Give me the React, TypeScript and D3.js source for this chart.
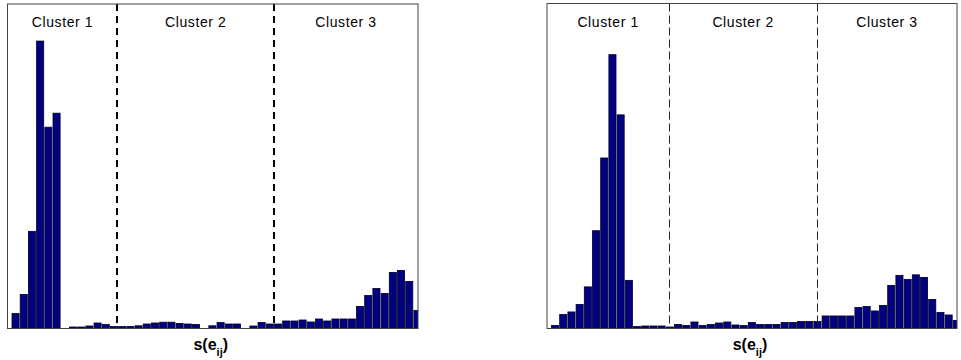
import React from "react";
import * as d3 from "d3";

// Histogram bin counts of s(e_ij) for the two runs
const binsLeft: number[] = [
  15, 34, 97, 287, 201, 215, 0, 1.5, 1.5, 2.5,
  5.5, 4, 2, 2, 2, 2.7, 4.5, 5.5, 6.3, 6.3,
  5, 4.5, 4, 0, 2.7, 6, 4.5, 4.5, 0, 2.5,
  6, 4.5, 4.5, 7.5, 7.5, 8.5, 6.5, 9.5, 7.5, 9.5,
  9.5, 9.5, 22, 33, 40, 35, 56, 58, 47, 18,
];
const binsRight: number[] = [
  3, 14, 16.5, 24, 41.5, 97.5, 170, 273, 213, 48,
  2, 2.5, 2.5, 2.5, 1.5, 4, 3, 6.5, 3, 4,
  5.5, 6.5, 3.5, 3, 6, 4, 4, 4, 6, 6,
  7, 7, 7, 12.5, 12.5, 12.5, 12.5, 21, 22, 17.5,
  23, 43, 53, 49, 53.5, 51, 29, 16, 13.5, 8,
];
// Cluster boundaries, in bin units
const splitsLeft: number[] = [12.4, 31.5];
const splitsRight: number[] = [13.9, 31.93];
// Visible bin range of each panel
const domainLeft: [number, number] = [-1, 49.05];
const domainRight: [number, number] = [-1, 49.0];
const clusterNames: string[] = ["Cluster 1", "Cluster 2", "Cluster 3"];
const yMax = 324;

type PanelProps = {
  id: string;
  bins: number[];
  splits: number[];
  domain: [number, number];
  left: number;
  right: number;
  top: number;
  bottom: number;
  heavyDash: boolean;
};

function Panel({ id, bins, splits, domain, left, right, top, bottom, heavyDash }: PanelProps) {
  const x = d3.scaleLinear().domain(domain).range([left, right]);
  const y = d3.scaleLinear().domain([0, yMax]).range([bottom, top]);
  const step = x(1) - x(0);
  const edges = [domain[0], ...splits, domain[1]];
  const clipId = `clip-${id}`;
  // snap thin rules to the pixel grid so they stay crisp
  const crisp = (v: number) => (heavyDash ? Math.round(v) : Math.floor(v) + 0.5);
  return (
    <g>
      <defs>
        <clipPath id={clipId}>
          <rect x={left} y={top} width={right - left} height={bottom - top} />
        </clipPath>
      </defs>
      <rect x={left} y={top} width={right - left} height={bottom - top} fill="#fff" />
      <g clipPath={`url(#${clipId})`}>
        {bins.map((v, i) =>
          v > 0 ? (
            <rect
              key={i}
              x={x(i - 0.5) + 0.4}
              y={y(v)}
              width={step - 1.1}
              height={bottom - y(v)}
              fill="#000080"
              stroke="#00002a"
              strokeWidth={0.8}
            />
          ) : null
        )}
      </g>
      {splits.map((s, i) => (
        <line
          key={i}
          x1={crisp(x(s))}
          x2={crisp(x(s))}
          y1={top}
          y2={bottom}
          stroke={heavyDash ? "#000" : "#222"}
          strokeWidth={heavyDash ? 2 : 1}
          strokeDasharray={heavyDash ? "7,5" : "8,4"}
        />
      ))}
      {clusterNames.map((name, i) => (
        <text
          key={name}
          x={(x(edges[i]) + x(edges[i + 1])) / 2}
          y={top + 23}
          textAnchor="middle"
          fontFamily="'Liberation Sans', Arial, sans-serif"
          fontSize={14}
          letterSpacing={0.6}
          fill="#000"
        >
          {name}
        </text>
      ))}
      <rect
        x={left}
        y={top}
        width={right - left}
        height={bottom - top}
        fill="none"
        stroke="#444"
        strokeWidth={1}
      />
      <text
        x={(left + right) / 2 - 2}
        y={350}
        textAnchor="middle"
        fontFamily="'Liberation Sans', Arial, sans-serif"
        fontWeight="bold"
        fontSize={16}
        fill="#000"
      >
        <tspan>s(e</tspan>
        <tspan fontSize={11} dy={6}>ij</tspan>
        <tspan dy={-6}>)</tspan>
      </text>
    </g>
  );
}

export default function App() {
  return (
    <svg
      width={961}
      height={360}
      style={{ position: "absolute", left: 0, top: 0, background: "#fff" }}
    >
      <Panel id="a" bins={binsLeft} splits={splitsLeft} domain={domainLeft} left={7.5} right={418} top={4} bottom={328.5} heavyDash={true} />
      <Panel id="b" bins={binsRight} splits={splitsRight} domain={domainRight} left={547} right={957} top={3.5} bottom={328.5} heavyDash={false} />
    </svg>
  );
}
